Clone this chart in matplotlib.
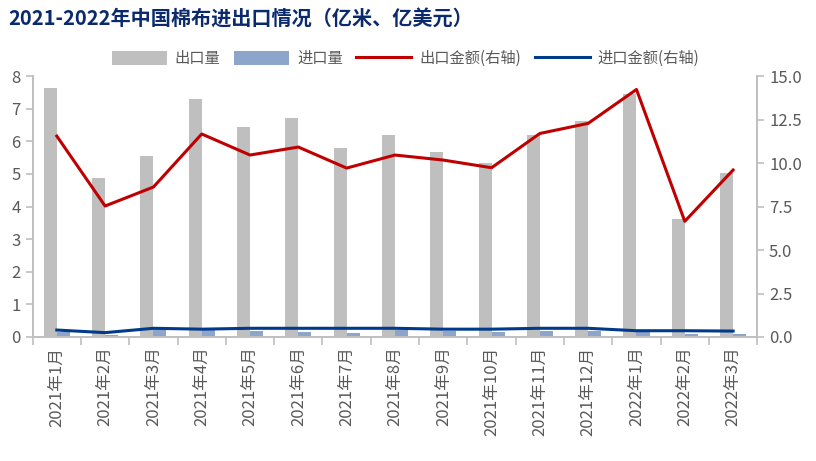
import numpy as np
import matplotlib.pyplot as plt

plt.rcParams['font.family'] = ['Noto Sans CJK SC', 'DejaVu Sans']

months = ['2021年1月', '2021年2月', '2021年3月', '2021年4月', '2021年5月', '2021年6月',
          '2021年7月', '2021年8月', '2021年9月', '2021年10月', '2021年11月', '2021年12月',
          '2022年1月', '2022年2月', '2022年3月']
export_qty = [7.64, 4.88, 5.55, 7.30, 6.44, 6.72, 5.80, 6.20, 5.67, 5.34, 6.20, 6.63, 7.45, 3.62, 5.03]
import_qty = [0.15, 0.06, 0.25, 0.20, 0.18, 0.14, 0.13, 0.20, 0.18, 0.15, 0.17, 0.17, 0.17, 0.10, 0.08]
export_amt = [11.55, 7.53, 8.62, 11.67, 10.46, 10.92, 9.71, 10.46, 10.17, 9.73, 11.70, 12.28, 14.23, 6.65, 9.60]
import_amt = [0.40, 0.25, 0.50, 0.45, 0.50, 0.50, 0.50, 0.50, 0.45, 0.45, 0.50, 0.50, 0.36, 0.36, 0.34]

grey_txt = '#595959'
spine_c = '#BFBFBF'

fig = plt.figure(figsize=(8.16, 4.61), dpi=100)
ax = fig.add_axes([0.040, 0.269, 0.888, 0.566])
ax2 = ax.twinx()

x = np.arange(len(months))
w = 0.27
b1 = ax.bar(x - w / 2, export_qty, w, color='#BFBFBF', label='出口量', zorder=2)
b2 = ax.bar(x + w / 2, import_qty, w, color='#8EA5CB', label='进口量', zorder=2)
l1, = ax2.plot(x, export_amt, color='#C00000', lw=2.2, label='出口金额(右轴)')
l2, = ax2.plot(x, import_amt, color='#003A8C', lw=2.2, label='进口金额(右轴)')

ax.set_xlim(-0.5, len(months) - 0.5)
ax.set_ylim(0, 8)
ax.set_yticks(range(0, 9))
ax2.set_ylim(0, 15)
ax2.set_yticks(np.arange(0, 15.1, 2.5))
ax2.set_yticklabels(['%.1f' % v for v in np.arange(0, 15.1, 2.5)])

ax.set_xticks(x)
ax.set_xticklabels(months, rotation=90, fontsize=12, color=grey_txt)
ax.set_xticks(np.arange(-0.5, len(months)), minor=True)
ax.tick_params(axis='x', which='major', length=0, pad=7)
ax.tick_params(axis='x', which='minor', length=6, color=spine_c, width=1.2)
ax.tick_params(axis='y', labelsize=12, colors=grey_txt, color=spine_c, length=5, width=1.2)
ax2.tick_params(axis='y', labelsize=12, colors=grey_txt, color=spine_c, length=5, width=1.2)

for a in (ax, ax2):
    a.spines['top'].set_visible(False)
    for s in ('left', 'right', 'bottom'):
        a.spines[s].set_color(spine_c)
        a.spines[s].set_linewidth(1.2)

fig.text(0.010, 0.958, '2021-2022年中国棉布进出口情况（亿米、亿美元）', fontsize=14.5,
         fontweight='bold', color='#0B2A6E', va='center', ha='left')

fig.legend([b1, b2, l1, l2], ['出口量', '进口量', '出口金额(右轴)', '进口金额(右轴)'],
           loc='center', bbox_to_anchor=(0.497, 0.873), ncol=4, frameon=False,
           fontsize=11, handlelength=3.6, handleheight=1.0, columnspacing=0.9,
           handletextpad=0.5, labelcolor=grey_txt)

fig.savefig('out.png', dpi=100)
